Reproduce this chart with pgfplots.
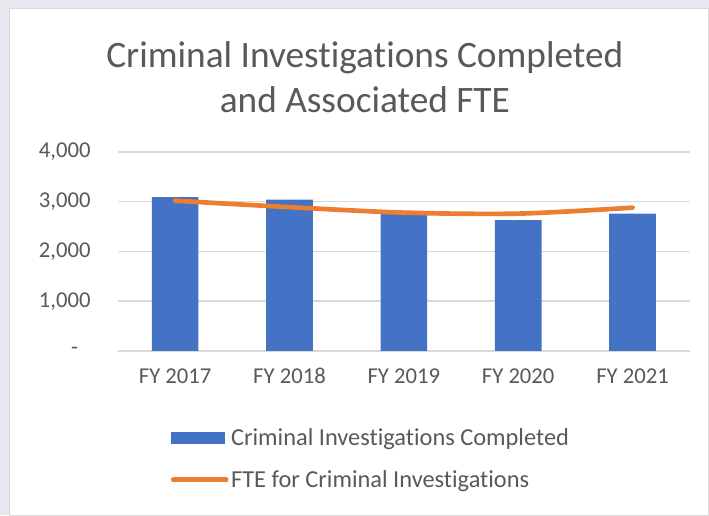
\documentclass[border=0pt]{standalone}
\usepackage{pgfplots}
\pgfplotsset{compat=1.18}
\usepackage{fontspec}
\setmainfont{Carlito}[RawFeature={-liga,-dlig,-clig}]
\definecolor{barblue}{HTML}{4472C4}
\definecolor{lineorange}{HTML}{ED7D31}
\definecolor{txtgray}{HTML}{595959}
\definecolor{gridgray}{HTML}{D9D9D9}
\definecolor{framegray}{HTML}{E6E8ED}

\begin{document}
\begin{tikzpicture}
% frame and title, in pixel units of the reference
\begin{scope}[x=0.75pt,y=-0.75pt]
\fill[framegray] (0,0) rectangle (709,515);
\filldraw[fill=white,draw=gridgray] (9,8) rectangle (709,515);
\node[text=txtgray,font=\fontsize{28}{34}\selectfont,align=center] at (365,77)
  {Criminal Investigations Completed\\and Associated FTE};
\coordinate (axorig) at (118,351);
\end{scope}
\begin{axis}[at={(axorig)}, anchor=south west, scale only axis,
  width=429pt, height=149.25pt,
  xmin=-0.5, xmax=4.5, ymin=0, ymax=4000,
  axis line style={draw=none}, major tick length=0pt,
  ymajorgrids, grid style={gridgray, line width=1.1pt},
  xtick={0,1,2,3,4}, xticklabels={FY 2017,FY 2018,FY 2019,FY 2020,FY 2021},
  ytick={0,1000,2000,3000,4000},
  yticklabels={{-\rule{0.55em}{0pt}},{1,000},{2,000},{3,000},{4,000}},
  tick label style={font=\fontsize{17}{20}\selectfont, text=txtgray},
  yticklabel style={anchor=east, xshift=-17pt},
  xticklabel style={anchor=north, text height=12pt, text depth=3pt, yshift=-9pt},
  legend style={draw=none, fill=none, at={(0.085,-0.36)}, anchor=north west,
    font=\fontsize{18.3}{22}\selectfont, text=txtgray, row sep=13.5pt,
    nodes={inner sep=2pt}},
  legend cell align=left]
\addplot[ybar, bar width=35pt, fill=barblue, draw=none,
  legend image code/.code={\fill[barblue] (0pt,-4.5pt) rectangle (40.5pt,4.5pt);}]
  coordinates {(0,3090) (1,3040) (2,2760) (3,2630) (4,2760)};
\addlegendentry{Criminal Investigations Completed}
\addplot[lineorange, line width=3.5pt, smooth, line cap=round,
  legend image code/.code={\draw[lineorange,line width=3.5pt,line cap=round] (1.8pt,0pt) -- (41.5pt,0pt);}]
  coordinates {(0,3020) (1,2890) (2,2780) (3,2760) (4,2880)};
\addlegendentry{FTE for Criminal Investigations}
\end{axis}
\end{tikzpicture}
\end{document}
